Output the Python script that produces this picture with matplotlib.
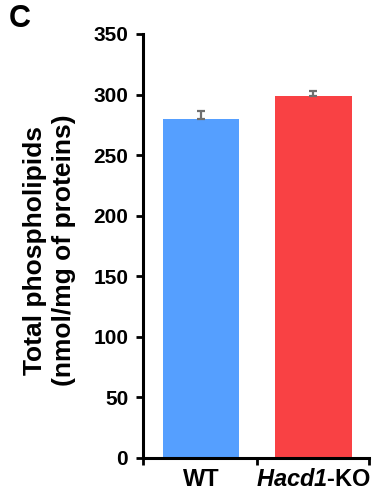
import matplotlib
matplotlib.use("Agg")
import matplotlib.pyplot as plt

groups = ["WT", "Hacd1-KO"]
values = [280, 299]
errors = [6.5, 4]
colors = ["#559FFF", "#F94144"]
yticks = [0, 50, 100, 150, 200, 250, 300, 350]

plt.rcParams["font.family"] = ["Liberation Sans", "DejaVu Sans"]
plt.rcParams["font.weight"] = "bold"
plt.rcParams["mathtext.fontset"] = "custom"
plt.rcParams["mathtext.bfit"] = "Liberation Sans:italic:bold"
plt.rcParams["mathtext.bf"] = "Liberation Sans:bold"


def main():
    fig = plt.figure(figsize=(3.79, 4.99), dpi=100)
    ax = fig.add_axes([0.3786, 0.0822, 0.5937, 0.8497])

    x = list(range(len(groups)))
    ax.bar(x, values, width=0.68, color=colors, zorder=2)
    ax.errorbar(x, values, yerr=[[0, 0], errors], fmt="none",
                ecolor="#6f6f6f", elinewidth=1.6, capsize=2.6, capthick=1.6,
                zorder=3)

    ax.set_xlim(-0.513, 1.49)
    ax.set_ylim(0, 350)
    ax.set_yticks(yticks)
    ax.set_yticklabels([str(v) for v in yticks], fontsize=15, fontweight="bold")

    ax.set_xticks(x)
    ax.set_xticklabels(["WT", r"$\mathbfit{Hacd1}$-KO"], fontsize=17,
                       fontweight="bold")
    ax.set_xticks([-0.513, 0.5, 1.49], minor=True)
    ax.tick_params(axis="x", which="major", length=0, pad=7.5)
    ax.tick_params(axis="x", which="minor", length=5, width=2)
    ax.tick_params(axis="y", length=5, width=2, pad=6)

    for side in ["top", "right"]:
        ax.spines[side].set_visible(False)
    for side in ["left", "bottom"]:
        ax.spines[side].set_linewidth(2.2)

    ax.set_ylabel("Total phospholipids\n(nmol/mg of proteins)", fontsize=19,
                  fontweight="bold", linespacing=1.25)
    ax.yaxis.set_label_coords(-0.3, 0.49)

    fig.text(0.024, 0.946, "C", fontsize=22, fontweight="bold", va="baseline")

    fig.savefig("out.png", dpi=100)


if __name__ == "__main__":
    main()
